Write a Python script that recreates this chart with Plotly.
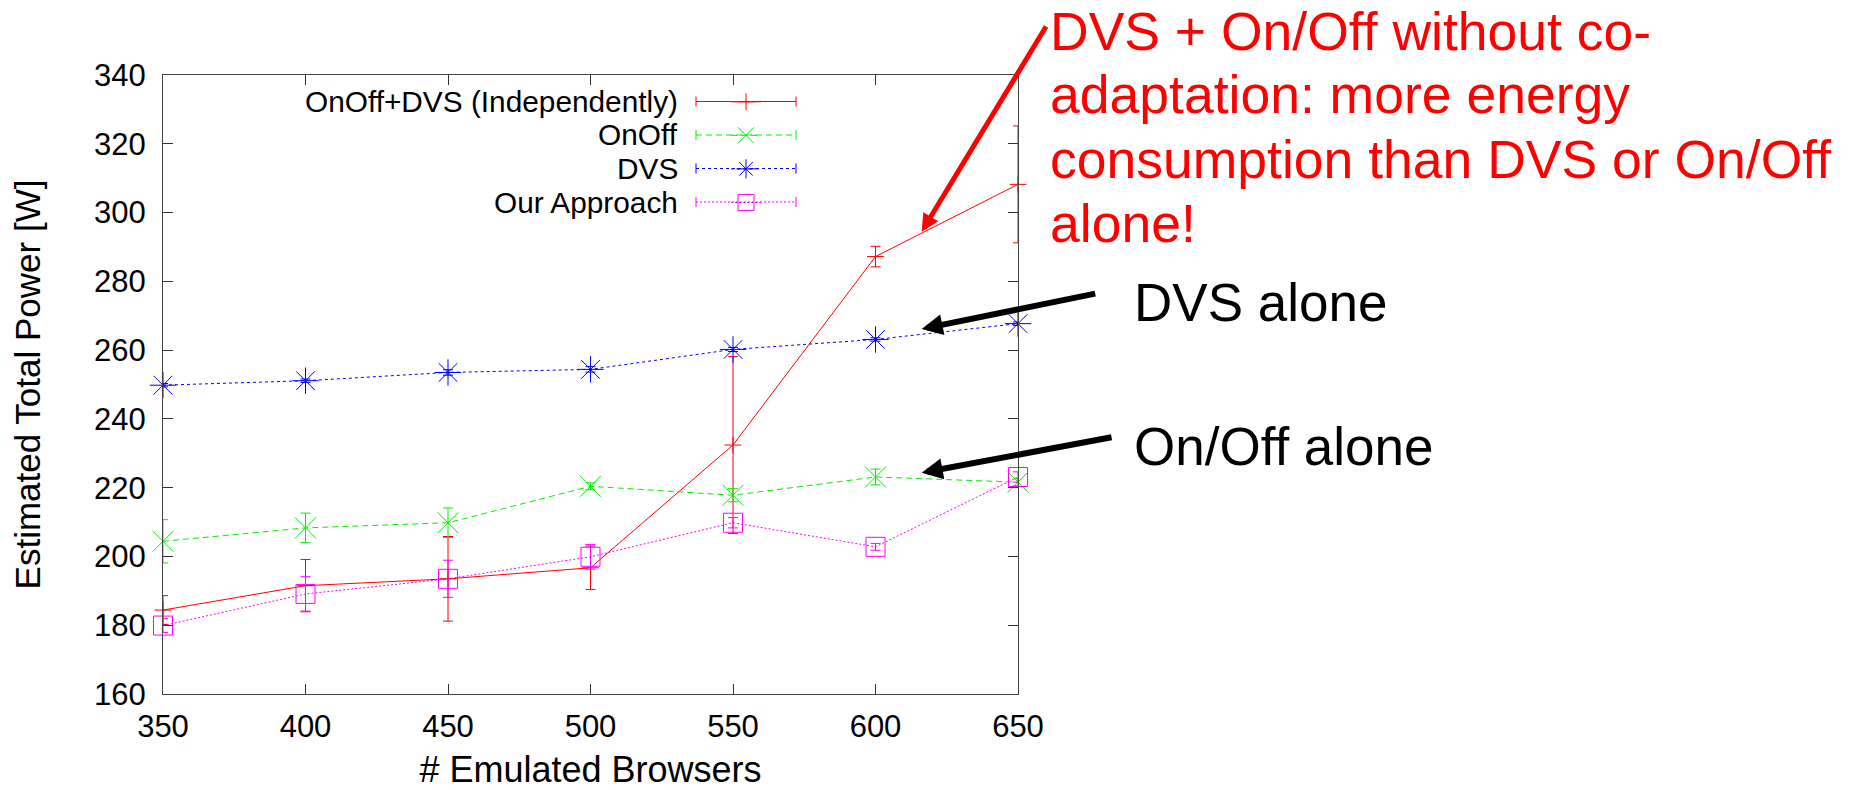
import plotly.graph_objects as go

# ---------------- data ----------------
browsers = [350, 400, 450, 500, 550, 600, 650]
x_tick_labels = ["350", "400", "450", "500", "550", "600", "650"]
y_tick_values = [160, 180, 200, 220, 240, 260, 280, 300, 320, 340]

series_names = ["OnOff+DVS (Independently)", "OnOff", "DVS", "Our Approach"]

onoff_dvs = [184.4, 191.5, 193.5, 196.7, 232.4, 287.2, 308.2]
onoff_dvs_err = [4.2, 7.6, 12.3, 6.3, 25.7, 3.0, 17.0]

onoff = [204.4, 208.3, 209.8, 220.4, 217.8, 223.1, 221.6]
onoff_err = [6.3, 4.3, 4.3, 1.0, 1.9, 2.3, 1.0]

dvs = [249.8, 251.1, 253.5, 254.4, 260.2, 263.1, 267.7]
dvs_err = [0.5, 0.5, 0.8, 0.8, 0.6, 0.5, 0.5]

our_approach = [179.9, 189.1, 193.5, 199.9, 209.8, 202.8, 223.1]
our_approach_err = [2.0, 5.0, 5.4, 3.6, 1.5, 1.0, 1.5]

# ---------------- layout helpers ----------------
W, H = 1856, 790
ML, MR, MT, MB = 163, 838, 75, 96
PW, PH = W - ML - MR, H - MT - MB
FONT = "Liberation Sans, Arial, sans-serif"


def px(xp):
    return (xp - ML) / PW


def py(yp):
    return (H - MB - yp) / PH


styles = [
    dict(color="#ff0000", dash="solid", symbol="cross-thin", size=12),
    dict(color="#00ee00", dash="6px,4px", symbol="x-thin", size=21),
    dict(color="#0000ff", dash="3px,3px", symbol="asterisk", size=22),
    dict(color="#ff00ff", dash="2px,2px", symbol="square-open", size=19),
]
values = [onoff_dvs, onoff, dvs, our_approach]
errors = [onoff_dvs_err, onoff_err, dvs_err, our_approach_err]

fig = go.Figure()
for name, vals, errs, st in zip(series_names, values, errors, styles):
    fig.add_trace(go.Scatter(
        x=browsers, y=vals, name="", mode="lines+markers",
        hovertemplate=name + ": %{y}<extra></extra>",
        line=dict(color=st["color"], width=1, dash=st["dash"]),
        marker=dict(symbol=st["symbol"], size=st["size"], color=st["color"],
                    line=dict(color=st["color"], width=1)),
        error_y=dict(type="data", array=errs, color=st["color"],
                     thickness=1, width=5),
        cliponaxis=False,
    ))

axis_common = dict(
    ticks="inside", ticklen=10, tickwidth=1.2, tickcolor="#333",
    showline=True, linecolor="#444", linewidth=1.3, mirror="ticks",
    showgrid=False, zeroline=False,
    tickfont=dict(family=FONT, size=31, color="black"),
)

fig.update_layout(
    width=W, height=H,
    margin=dict(l=ML, r=MR, t=MT, b=MB, autoexpand=False),
    paper_bgcolor="white", plot_bgcolor="white",
    font=dict(family=FONT, color="black"),
    xaxis=dict(range=[350, 650], tickvals=browsers, ticktext=x_tick_labels,
               ticklabelstandoff=5,
               title=dict(text="# Emulated Browsers", standoff=14,
                          font=dict(family=FONT, size=36, color="black")),
               **axis_common),
    yaxis=dict(range=[160, 340], tickvals=y_tick_values,
               ticktext=[str(v) for v in y_tick_values],
               ticklabelstandoff=10,
               title=dict(text="Estimated Total Power [W]", standoff=42,
                          font=dict(family=FONT, size=35, color="black")),
               **axis_common),
    showlegend=True,
    legend=dict(x=px(726), y=py(80), xanchor="left", yanchor="top",
                bgcolor="rgba(0,0,0,0)", borderwidth=0,
                font=dict(family=FONT, size=23.5), itemwidth=30,
                tracegroupgap=0),
)

annotations = []
shapes = []
legend_rows = [101.5, 135.0, 168.5, 202.0]
# legend labels (right aligned, to the left of the samples) + long sample lines
for label, yc, st in zip(series_names, legend_rows, styles):
    annotations.append(dict(
        text=label, xref="paper", yref="paper", x=px(678), y=py(yc),
        xanchor="right", yanchor="middle", showarrow=False,
        borderpad=0, borderwidth=0,
        font=dict(family=FONT, size=29.8, color="black")))
    shapes.append(dict(
        type="line", xref="paper", yref="paper",
        x0=px(696), x1=px(796), y0=py(yc), y1=py(yc),
        line=dict(color=st["color"], width=1, dash=st["dash"])))
    for xe in (696, 796):
        shapes.append(dict(
            type="line", xref="paper", yref="paper",
            x0=px(xe), x1=px(xe), y0=py(yc - 5), y1=py(yc + 5),
            line=dict(color=st["color"], width=1)))

# red comment
red_lines = ["DVS + On/Off without co-", "adaptation: more energy",
             "consumption than DVS or On/Off", "alone!"]
for line, base in zip(red_lines, [50, 114, 178, 242]):
    annotations.append(dict(
        text=line, xref="paper", yref="paper", x=px(1048), y=py(base - 19),
        xanchor="left", yanchor="middle", showarrow=False,
        font=dict(family=FONT, size=53.5, color="#ff0000")))

# black comments
for line, base in zip(["DVS alone", "On/Off alone"], [321.7, 465]):
    annotations.append(dict(
        text=line, xref="paper", yref="paper", x=px(1132), y=py(base - 18.8),
        xanchor="left", yanchor="middle", showarrow=False,
        font=dict(family=FONT, size=53, color="black")))

# arrows (head position, tail position in pixels)
arrows = [
    ((921.7, 231.7), (1047, 25), "#ff0000", 5),
    ((921.7, 329.0), (1096.7, 293.3), "black", 6),
    ((921.7, 472.7), (1113.0, 437.0), "black", 6),
]
for (hx, hy), (tx, ty), col, wdt in arrows:
    annotations.append(dict(
        text="", xref="paper", yref="paper", x=px(hx), y=py(hy),
        showarrow=True, ax=tx - hx, ay=ty - hy,
        arrowhead=2, arrowsize=0.7, arrowwidth=wdt, arrowcolor=col,
        standoff=0, startstandoff=0))

fig.update_layout(annotations=annotations, shapes=shapes)

# remove the browser's default 8px body margin so the figure sits at (0, 0)
fig.write_html("out.html",
               config={"displayModeBar": False},
               post_script="document.body.style.margin='0';"
                           "document.body.style.overflow='hidden';")
